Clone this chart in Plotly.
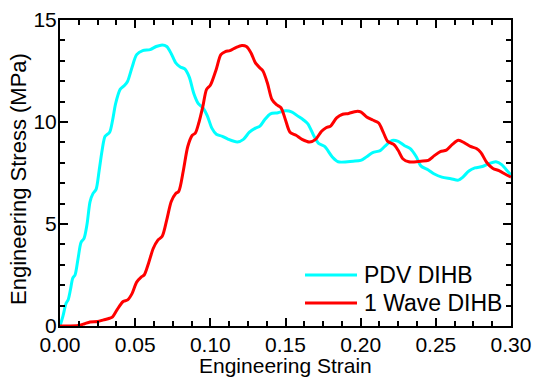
import plotly.graph_objects as go

# PDV DIHB (cyan)
strain_pdv = [0, 0.002, 0.004, 0.0055, 0.007, 0.0085, 0.010, 0.012, 0.014, 0.016, 0.018, 0.020,
              0.022, 0.024, 0.026, 0.028, 0.030, 0.033, 0.035, 0.037, 0.040, 0.043, 0.045, 0.048,
              0.051, 0.055, 0.060, 0.064, 0.068, 0.071, 0.074, 0.077, 0.080, 0.083, 0.086, 0.089,
              0.092, 0.095, 0.098, 0.101, 0.104, 0.108, 0.112, 0.118, 0.122, 0.126, 0.130, 0.133,
              0.136, 0.140, 0.145, 0.150, 0.154, 0.158, 0.162, 0.165, 0.169, 0.172, 0.176, 0.181,
              0.185, 0.195, 0.200, 0.204, 0.208, 0.213, 0.216, 0.221, 0.225, 0.229, 0.233, 0.237,
              0.240, 0.245, 0.249, 0.254, 0.260, 0.265, 0.268, 0.272, 0.276, 0.281, 0.285, 0.290,
              0.294, 0.297, 0.300]
stress_pdv = [0, 0.5, 1.1, 1.3, 1.8, 2.35, 2.5, 3.3, 4.1, 4.3, 5.0, 6.1,
              6.5, 6.7, 7.6, 8.6, 9.3, 9.5, 10.1, 10.9, 11.6, 11.8, 12.0, 12.7,
              13.3, 13.5, 13.55, 13.7, 13.78, 13.7, 13.35, 12.9, 12.7, 12.6, 12.2, 11.4,
              10.9, 10.7, 10.3, 9.7, 9.4, 9.3, 9.15, 9.02, 9.15, 9.5, 9.7, 9.8,
              10.1, 10.4, 10.45, 10.55, 10.5, 10.3, 10.1, 9.9, 9.3, 8.95, 8.8, 8.3,
              8.05, 8.08, 8.12, 8.3, 8.5, 8.6, 8.8, 9.1, 9.05, 8.85, 8.7, 8.3,
              7.85, 7.65, 7.45, 7.3, 7.22, 7.15, 7.3, 7.6, 7.75, 7.82, 7.95, 8.05,
              7.9, 7.65, 7.4]

# 1 Wave DIHB (red)
strain_wave = [0, 0.006, 0.012, 0.016, 0.020, 0.025, 0.029, 0.033, 0.035, 0.038, 0.042, 0.045,
               0.048, 0.051, 0.054, 0.056, 0.059, 0.062, 0.065, 0.068, 0.071, 0.074, 0.077, 0.079,
               0.082, 0.085, 0.088, 0.090, 0.0925, 0.095, 0.0975, 0.100, 0.104, 0.107, 0.110, 0.113,
               0.117, 0.121, 0.124, 0.127, 0.130, 0.133, 0.135, 0.138, 0.141, 0.144, 0.147, 0.150,
               0.153, 0.157, 0.161, 0.166, 0.170, 0.174, 0.177, 0.180, 0.184, 0.188, 0.192, 0.197,
               0.200, 0.204, 0.208, 0.212, 0.215, 0.218, 0.222, 0.225, 0.228, 0.232, 0.240, 0.245,
               0.249, 0.253, 0.257, 0.261, 0.265, 0.269, 0.273, 0.277, 0.280, 0.284, 0.288, 0.292,
               0.296, 0.300]
stress_wave = [0, 0, 0.02, 0.1, 0.2, 0.22, 0.3, 0.38, 0.45, 0.8, 1.2, 1.28,
               1.6, 2.15, 2.4, 2.5, 3.1, 3.8, 4.2, 4.4, 5.2, 6.1, 6.5, 6.6,
               7.6, 8.8, 9.35, 9.45, 10.0, 10.75, 11.6, 11.8, 12.6, 13.3, 13.45, 13.5,
               13.65, 13.75, 13.7, 13.4, 12.9, 12.65, 12.5, 11.9, 11.1, 10.85, 10.7, 10.1,
               9.5, 9.35, 9.15, 9.02, 9.15, 9.55, 9.72, 9.8, 10.2, 10.38, 10.42, 10.52,
               10.5, 10.25, 10.1, 9.95, 9.5, 9.05, 8.9, 8.6, 8.2, 8.05, 8.08, 8.12,
               8.35, 8.55, 8.62, 8.9, 9.1, 8.98, 8.8, 8.7, 8.5, 8.0, 7.72, 7.62,
               7.45, 7.3]

series_names = ["PDV DIHB", "1 Wave DIHB"]
series_colors = ["#00FFFF", "#FF0000"]

FONT = "Arial, Liberation Sans, sans-serif"
W, H = 543, 377
ML, MR, MT, MB = 60, 32, 20, 51
PW, PH = W - ML - MR, H - MT - MB


def px_x(p):
    return (p - ML) / PW


def px_y(p):
    return (H - MB - p) / PH


fig = go.Figure()
for xs, ys, nm, col in [(strain_pdv, stress_pdv, series_names[0], series_colors[0]),
                        (strain_wave, stress_wave, series_names[1], series_colors[1])]:
    fig.add_trace(go.Scatter(x=xs, y=ys, mode="lines", name=nm, showlegend=False,
                             line=dict(color=col, width=3, shape="spline", smoothing=0.8)))

axis_common = dict(showline=True, linecolor="black", linewidth=2, mirror="allticks",
                   ticks="inside", ticklen=8, tickwidth=2, tickcolor="black",
                   showgrid=False, zeroline=False, automargin=False,
                   tickfont=dict(family=FONT, size=21, color="black"))

fig.update_layout(
    width=W, height=H,
    margin=dict(l=ML, r=MR, t=MT, b=MB),
    paper_bgcolor="white", plot_bgcolor="white",
    font=dict(family=FONT, color="black"),
    xaxis=dict(range=[0, 0.3], dtick=0.05, tick0=0, tickformat=".2f", ticklabelstandoff=-1,
               minor=dict(dtick=0.0125, ticks="inside", ticklen=5, tickwidth=1.5, tickcolor="black", showgrid=False),
               **axis_common),
    yaxis=dict(range=[0, 15], dtick=5, tick0=0, ticklabelstandoff=-3,
               minor=dict(dtick=1, ticks="inside", ticklen=5, tickwidth=1.5, tickcolor="black", showgrid=False),
               **axis_common),
    showlegend=False,
)

# x-axis title
fig.add_annotation(text="Engineering Strain", xref="paper", yref="paper",
                   x=px_x(285), y=px_y(365), xanchor="center", yanchor="middle", showarrow=False,
                   borderpad=0, font=dict(family=FONT, size=21, color="black"))

# y-axis title (placed to match reference offset)
fig.add_annotation(text="Engineering Stress (MPa)", textangle=-90, xref="paper", yref="paper",
                   x=px_x(19), y=px_y(179), xanchor="center", yanchor="middle", showarrow=False,
                   borderpad=0, font=dict(family=FONT, size=22, color="black"))

# legend (manual, to match reference sample length and spacing)
legend_rows = [275, 303]
for nm, col, yy in zip(series_names, series_colors, legend_rows):
    fig.add_shape(type="line", xref="paper", yref="paper",
                  x0=px_x(305), x1=px_x(357), y0=px_y(yy), y1=px_y(yy),
                  line=dict(color=col, width=3))
    fig.add_annotation(text=nm, xref="paper", yref="paper", x=px_x(362), y=px_y(yy),
                       xanchor="left", yanchor="middle", showarrow=False,
                       font=dict(family=FONT, size=23, color="black"))

fig.write_html("out.html")
